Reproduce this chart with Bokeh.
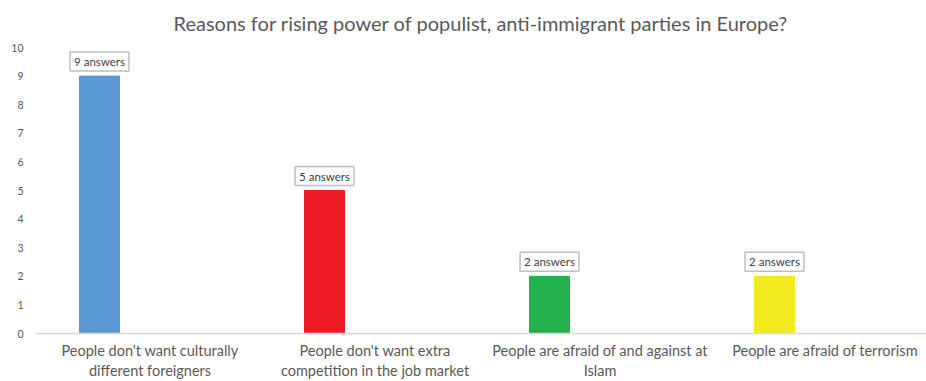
from bokeh.plotting import figure
from bokeh.models import ColumnDataSource, FixedTicker, Range1d
from bokeh.core.properties import value
from bokeh.embed import file_html
from bokeh.resources import INLINE

title = "Reasons for rising power of populist, anti-immigrant parties in Europe?"
categories = [
    "People don't want culturally\ndifferent foreigners",
    "People don't want extra\ncompetition in the job market",
    "People are afraid of and against at\nIslam",
    "People are afraid of terrorism",
]
counts = [9, 5, 2, 2]
labels = ["9 answers", "5 answers", "2 answers", "2 answers"]
colors = ["#5b9bd5", "#ed1c24", "#22b14c", "#f2e91e"]
yticks = list(range(0, 11))

W, H = 926, 381
frame_left = 35
frame_top = 47
frame_bottom = 334
cat_px = 225.0
pos = list(range(len(categories)))
bar_offset = -0.2244
bar_pos = [p_ + bar_offset for p_ in pos]

x_start = -(149.5 - frame_left) / cat_px
x_end = x_start + (W - frame_left) / cat_px

p = figure(width=W, height=H, output_backend="svg", toolbar_location=None,
           x_range=Range1d(x_start, x_end), y_range=Range1d(0, 10),
           min_border_left=frame_left, min_border_right=0,
           min_border_top=0, min_border_bottom=H - frame_bottom)
p.outline_line_color = None
p.grid.grid_line_color = None
p.background_fill_color = "white"
p.border_fill_color = "white"

p.title.text = title
p.title.align = "center"
p.title.vertical_align = "top"
p.title.text_font = "Lato"
p.title.text_font_size = "20px"
p.title.text_font_style = "normal"
p.title.text_color = "#595959"
p.title.offset = 0
p.title.standoff = 21

src = ColumnDataSource(dict(x=bar_pos, top=counts, color=colors, label=labels))
p.vbar(x="x", top="top", width=40 / cat_px, bottom=0, color="color", source=src)
p.text(x="x", y="top", text="label", source=src,
       text_align="center", text_baseline="bottom", y_offset=-5,
       text_font=value("Lato"), text_font_size="11.5px", text_color="#404040",
       background_fill_color="white", border_line_color="#bfbfbf",
       border_line_width=1.5, padding=(4, 3))

xa = p.xaxis[0]
xa.ticker = FixedTicker(ticks=pos)
xa.major_label_overrides = {i: c for i, c in enumerate(categories)}
xa.major_tick_line_color = None
xa.minor_tick_line_color = None
xa.major_tick_out = 0
xa.major_tick_in = 0
xa.axis_line_color = "#d9d9d9"
xa.axis_line_width = 1.5
xa.major_label_text_font = "Lato"
xa.major_label_text_font_size = "14.5px"
xa.major_label_text_color = "#595959"
xa.major_label_text_line_height = 1.2
xa.major_label_standoff = 8

ya = p.yaxis[0]
ya.ticker = FixedTicker(ticks=yticks)
ya.axis_line_color = None
ya.major_tick_line_color = None
ya.minor_tick_line_color = None
ya.major_tick_out = 0
ya.major_label_text_font = "Lato"
ya.major_label_text_font_size = "10.5px"
ya.major_label_text_color = "#595959"
ya.major_label_standoff = 12

open("out.html", "w").write(file_html(p, INLINE))
